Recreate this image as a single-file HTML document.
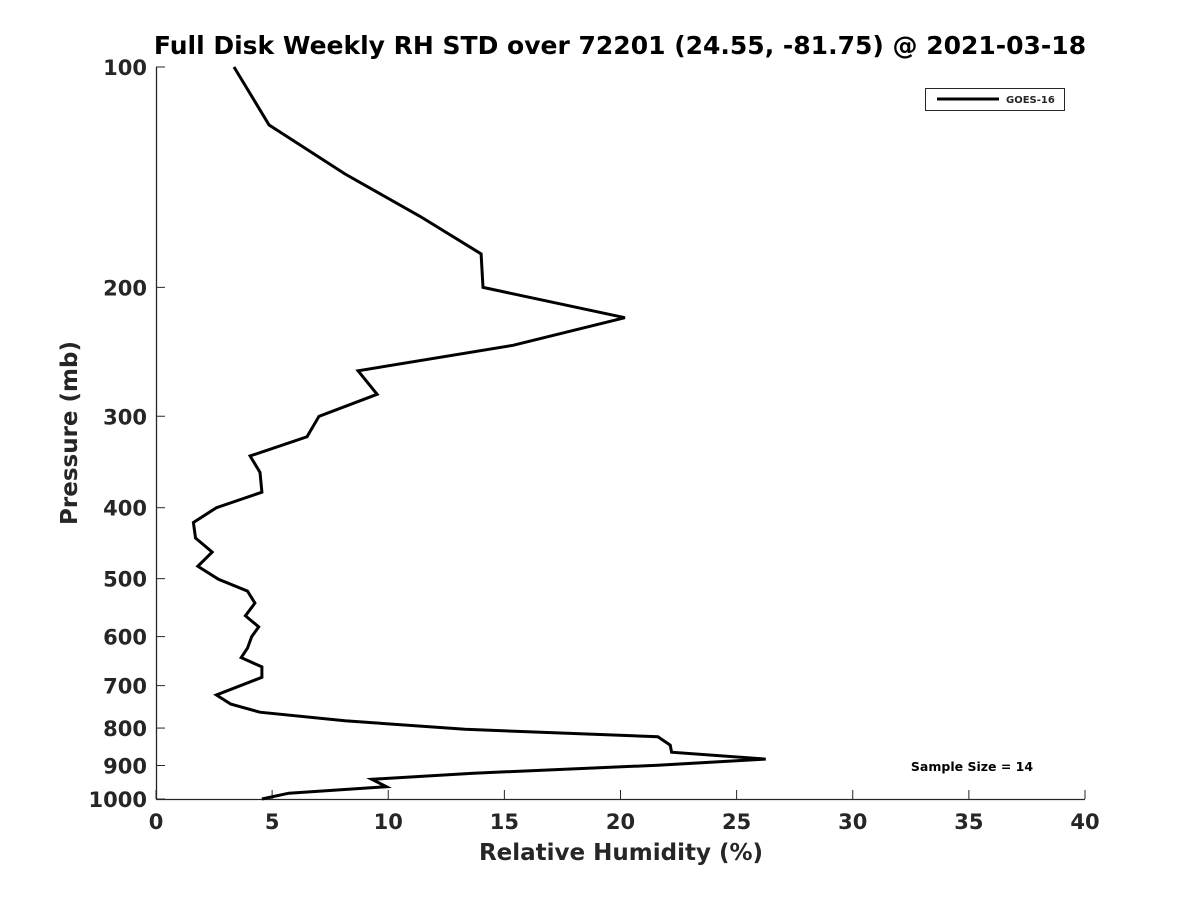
<!DOCTYPE html>
<html><head><meta charset="utf-8"><style>
body{margin:0;background:#fff;}
svg text{font-family:"DejaVu Sans","Liberation Sans",sans-serif;font-weight:bold;fill:#262626;}
</style></head><body>
<svg width="1200" height="900" viewBox="0 0 1200 900" xmlns="http://www.w3.org/2000/svg">
<rect width="1200" height="900" fill="#fff"/>
<text x="620" y="54" text-anchor="middle" font-size="25" style="fill:#000">Full Disk Weekly RH STD over 72201 (24.55, -81.75) @ 2021-03-18</text>
<g id="axes"></g>
<g id="series"></g>
<text x="621" y="860" text-anchor="middle" font-size="23">Relative Humidity (%)</text>
<text transform="translate(77,433) rotate(-90)" text-anchor="middle" font-size="23">Pressure (mb)</text>
<g>
<rect x="925.5" y="88.5" width="139" height="22" fill="#fff" stroke="#262626" stroke-width="1"/>
<line x1="937" y1="99" x2="999" y2="99" stroke="#000" stroke-width="3"/>
<text x="1006" y="103" font-size="10">GOES-16</text>
</g>
<text x="972" y="771" text-anchor="middle" font-size="12.5" style="fill:#000">Sample Size = 14</text>
</svg>
<script>
const pressures = [100,120,140,160,180,200,220,240,260,280,300,320,340,358,381,400,419,440,460,481,501,520,540,562,582,600,622,641,660,682,721,742,761,782,803,822,844,863,882,899,922,940,962,982,1000];
const rhStd = [3.36,4.87,8.14,11.37,14.0,14.08,20.19,15.37,8.70,9.52,7.02,6.50,4.05,4.48,4.56,2.6,1.61,1.70,2.42,1.80,2.69,3.94,4.26,3.85,4.42,4.12,3.94,3.67,4.56,4.56,2.60,3.22,4.47,8.13,13.31,21.61,22.14,22.20,26.25,21.61,13.67,9.29,9.92,5.72,4.56];
const xTicks = [0,5,10,15,20,25,30,35,40];
const yTicks = [100,200,300,400,500,600,700,800,900,1000];

const X0=156,X1=1085,Y0=67,Y1=799;
function xs(v){return X0+(v-0)/(40-0)*(X1-X0);}
function ys(p){return Y0+(Math.log10(p)-2)*(Y1-Y0);}
const NS='http://www.w3.org/2000/svg';
const axes=document.getElementById('axes');
function mk(tag,attrs,parent){const e=document.createElementNS(NS,tag);for(const k in attrs)e.setAttribute(k,attrs[k]);parent.appendChild(e);return e;}

const xAxis=mk('line',{x1:X0,y1:Y1+0.5,x2:X1,y2:Y1+0.5,stroke:'#262626','stroke-width':1.3},axes);


const yAxis=mk('line',{x1:X0+0.5,y1:Y0,x2:X0+0.5,y2:Y1,stroke:'#262626','stroke-width':1.3},axes);



xTicks.forEach(t=>{
  const x=xs(t);
  const tk=mk('line',{x1:x,y1:Y1,x2:x,y2:Y1-9,stroke:'#262626','stroke-width':1},axes);
  
  
  const lb=mk('text',{x:x,y:Y1+30,'text-anchor':'middle','font-size':21},axes);
  lb.textContent=t;
  
  
});
yTicks.forEach(t=>{
  const y=ys(t);
  const tk=mk('line',{x1:X0,y1:y,x2:X0+9,y2:y,stroke:'#262626','stroke-width':1},axes);
  
  
  const lb=mk('text',{x:X0-9,y:y+8,'text-anchor':'end','font-size':21},axes);
  lb.textContent=t;
  
  
});

const pts=pressures.map((p,i)=>xs(rhStd[i]).toFixed(1)+','+ys(p).toFixed(1)).join(' ');
const line=mk('polyline',{points:pts,fill:'none',stroke:'#000','stroke-width':3,'stroke-linejoin':'miter'},document.getElementById('series'));


</script>
</body></html>
